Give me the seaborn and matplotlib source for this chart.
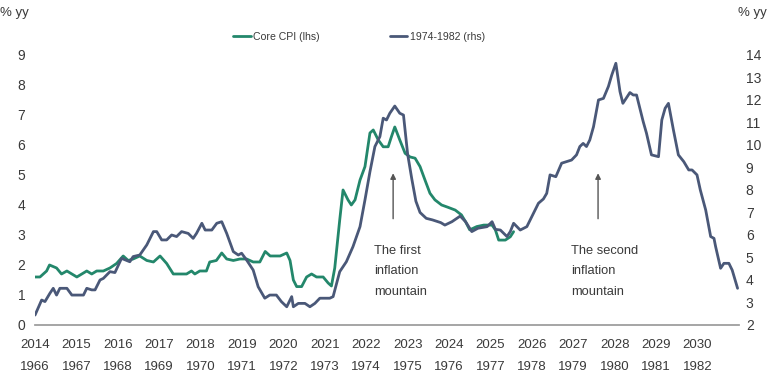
import matplotlib
matplotlib.use("Agg")
import matplotlib.pyplot as plt
import numpy as np
import pandas as pd
import seaborn as sns

sns.set_theme(style="white")
plt.rcParams['font.family'] = ['Liberation Sans Narrow', 'Liberation Sans', 'DejaVu Sans']

# Core CPI (lhs), x in years from 2014
core_x = [2014.00, 2014.12, 2014.28, 2014.35, 2014.52, 2014.64, 2014.77, 2014.89, 2015.01,
          2015.25, 2015.37, 2015.49, 2015.65, 2015.81, 2015.97, 2016.13, 2016.25, 2016.37,
          2016.53, 2016.70, 2016.86, 2017.02, 2017.18, 2017.34, 2017.66, 2017.78, 2017.86,
          2017.98, 2018.14, 2018.22, 2018.38, 2018.51, 2018.63, 2018.79, 2018.95, 2019.11,
          2019.27, 2019.43, 2019.56, 2019.68, 2019.92, 2020.08, 2020.16, 2020.24, 2020.32,
          2020.44, 2020.56, 2020.68, 2020.80, 2020.96, 2021.08, 2021.16, 2021.24, 2021.36,
          2021.44, 2021.56, 2021.64, 2021.73, 2021.85, 2021.97, 2022.09, 2022.17, 2022.29,
          2022.41, 2022.53, 2022.61, 2022.69, 2022.81, 2022.94, 2023.06, 2023.18, 2023.30,
          2023.42, 2023.54, 2023.66, 2023.82, 2023.98, 2024.15, 2024.30, 2024.40, 2024.50,
          2024.67, 2024.84, 2025.04, 2025.12, 2025.20, 2025.36, 2025.48, 2025.56]
core_y = [1.6, 1.6, 1.8, 2.0, 1.9, 1.7, 1.8, 1.7, 1.6,
          1.8, 1.7, 1.8, 1.8, 1.9, 2.05, 2.3, 2.15, 2.2,
          2.3, 2.15, 2.1, 2.3, 2.05, 1.7, 1.7, 1.8, 1.7,
          1.8, 1.8, 2.1, 2.15, 2.4, 2.2, 2.15, 2.2, 2.2,
          2.1, 2.1, 2.45, 2.3, 2.3, 2.4, 2.15, 1.5, 1.28,
          1.28, 1.6, 1.7, 1.6, 1.6, 1.4, 1.3, 1.9, 3.5,
          4.5, 4.17, 4.0, 4.17, 4.83, 5.28, 6.4, 6.5, 6.17,
          5.94, 5.94, 6.28, 6.6, 6.17, 5.72, 5.6, 5.56, 5.28,
          4.83, 4.39, 4.17, 4.0, 3.92, 3.83, 3.67, 3.44, 3.17,
          3.28, 3.33, 3.33, 3.17, 2.83, 2.83, 2.94, 3.11]

# 1974-1982 (rhs), plotted against the same x (1966 -> 2014)
hist_x = [2014.00, 2014.16, 2014.24, 2014.36, 2014.44, 2014.52, 2014.60, 2014.77, 2014.89,
          2015.17, 2015.25, 2015.37, 2015.45, 2015.57, 2015.65, 2015.81, 2015.93, 2016.09,
          2016.29, 2016.37, 2016.53, 2016.70, 2016.86, 2016.94, 2017.06, 2017.18, 2017.30,
          2017.42, 2017.54, 2017.70, 2017.82, 2017.90, 2018.03, 2018.11, 2018.27, 2018.39,
          2018.51, 2018.63, 2018.79, 2018.91, 2018.99, 2019.11, 2019.27, 2019.39, 2019.55,
          2019.67, 2019.83, 2019.95, 2020.08, 2020.20, 2020.24, 2020.36, 2020.52, 2020.64,
          2020.76, 2020.88, 2021.12, 2021.20, 2021.36, 2021.52, 2021.68, 2021.85, 2021.97,
          2022.09, 2022.21, 2022.33, 2022.41, 2022.49, 2022.57, 2022.69, 2022.81, 2022.90,
          2023.00, 2023.10, 2023.20, 2023.30, 2023.45, 2023.60, 2023.80, 2023.90, 2024.07,
          2024.27, 2024.40, 2024.55, 2024.70, 2024.92, 2025.04, 2025.12, 2025.24, 2025.40,
          2025.48, 2025.56, 2025.72, 2025.88, 2026.04, 2026.16, 2026.28, 2026.36, 2026.44,
          2026.58, 2026.72, 2026.84, 2026.96, 2027.08, 2027.16, 2027.24, 2027.32, 2027.40,
          2027.49, 2027.61, 2027.73, 2027.85, 2027.93, 2028.03, 2028.13, 2028.20, 2028.37,
          2028.45, 2028.53, 2028.69, 2028.77, 2028.89, 2029.06, 2029.14, 2029.22, 2029.30,
          2029.42, 2029.54, 2029.67, 2029.79, 2029.87, 2029.99, 2030.07, 2030.20, 2030.32,
          2030.40, 2030.44, 2030.56, 2030.64, 2030.76, 2030.84, 2030.97]
hist_y = [2.44, 3.11, 3.04, 3.41, 3.63, 3.33, 3.63, 3.63, 3.33,
          3.33, 3.63, 3.56, 3.56, 4.0, 4.07, 4.37, 4.33, 4.96,
          4.81, 5.04, 5.11, 5.56, 6.15, 6.15, 5.78, 5.78, 6.0,
          5.93, 6.15, 6.07, 5.85, 6.07, 6.52, 6.22, 6.22, 6.52,
          6.59, 6.07, 5.26, 5.11, 5.19, 4.89, 4.44, 3.70, 3.19,
          3.33, 3.33, 3.04, 2.81, 3.26, 2.81, 2.96, 2.96, 2.81,
          2.96, 3.19, 3.19, 3.26, 4.37, 4.81, 5.48, 6.37, 7.56,
          8.81, 9.93, 10.37, 11.19, 11.11, 11.41, 11.73, 11.41, 11.33,
          9.6, 8.5, 7.5, 7.0, 6.74, 6.67, 6.55, 6.44, 6.59,
          6.84, 6.59, 6.15, 6.30, 6.37, 6.59, 6.25, 6.22, 5.93,
          6.15, 6.52, 6.22, 6.37, 6.96, 7.41, 7.6, 7.85, 8.67,
          8.59, 9.19, 9.26, 9.33, 9.56, 9.93, 10.07, 9.93, 10.22,
          10.81, 12.0, 12.07, 12.6, 13.1, 13.63, 12.37, 11.85, 12.33,
          12.22, 12.22, 11.04, 10.52, 9.56, 9.48, 11.11, 11.63, 11.85,
          10.67, 9.56, 9.26, 8.89, 8.89, 8.67, 8.0, 7.11, 5.93,
          5.85, 5.48, 4.52, 4.74, 4.74, 4.44, 3.63]

years_now = list(range(2014, 2031))
years_then = list(range(1966, 1983))
tick_labels = [f"{a}\n{b}" for a, b in zip(years_now, years_then)]

core = pd.DataFrame({"x": core_x, "y": core_y})
hist = pd.DataFrame({"x": hist_x, "y": hist_y})

green = "#23876b"
navy = "#4a5878"
txt = "#3a3a3a"

fig = plt.figure(figsize=(7.68, 3.79), dpi=100)
ax = fig.add_axes([0.0456, 0.1425, 0.9164, 0.7125])
ax2 = ax.twinx()

sns.lineplot(data=core, x="x", y="y", ax=ax, color=green, lw=2, label="Core CPI (lhs)", legend=False)
sns.lineplot(data=hist, x="x", y="y", ax=ax2, color=navy, lw=2, label="1974-1982 (rhs)", legend=False)

ax.set_xlim(2014, 2031)
ax.set_ylim(0, 9)
ax2.set_ylim(2, 14)
ax.set_yticks(range(0, 10))
ax2.set_yticks(range(2, 15))
ax.set_xticks(years_now + [2031])
ax.set_xticklabels(tick_labels + [""], linespacing=2.1)
for a in (ax, ax2):
    a.set_xlabel("")
    a.set_ylabel("")
    for s in ["top", "left", "right"]:
        a.spines[s].set_visible(False)
    a.grid(False)
ax2.spines["bottom"].set_visible(False)
ax.spines["bottom"].set_color("#9a9a9a")
ax.tick_params(axis="x", direction="in", length=5, color="#9a9a9a", labelsize=9.5,
               labelcolor=txt, pad=10)
ax.tick_params(axis="y", length=0, labelsize=10, labelcolor=txt, pad=7)
ax2.tick_params(axis="y", length=0, labelsize=10, labelcolor=txt, pad=5)

fig.text(0.0, 0.965, "% yy", fontsize=9.5, color=txt, ha="left", va="center")
fig.text(0.999, 0.965, "% yy", fontsize=9.5, color=txt, ha="right", va="center")

# annotations
for xa, xt, label in [(2022.65, 2022.2, "The first\ninflation\nmountain"),
                      (2027.6, 2026.95, "The second\ninflation\nmountain")]:
    ax.annotate("", xy=(xa, 5.15), xytext=(xa, 3.45),
                arrowprops=dict(arrowstyle="-|>", color="#555555", lw=1, mutation_scale=8))
    ax.text(xt, 2.68, label, fontsize=9.3, color=txt, ha="left", va="top", linespacing=1.95)

h1, l1 = ax.get_legend_handles_labels()
h2, l2 = ax2.get_legend_handles_labels()
fig.legend(h1 + h2, l1 + l2, loc="center", bbox_to_anchor=(0.4674, 0.902), ncol=2,
           frameon=False, fontsize=7.6, handlelength=1.7, handletextpad=0.2,
           columnspacing=6.6, labelcolor=txt)

fig.savefig("out.png", dpi=100)
